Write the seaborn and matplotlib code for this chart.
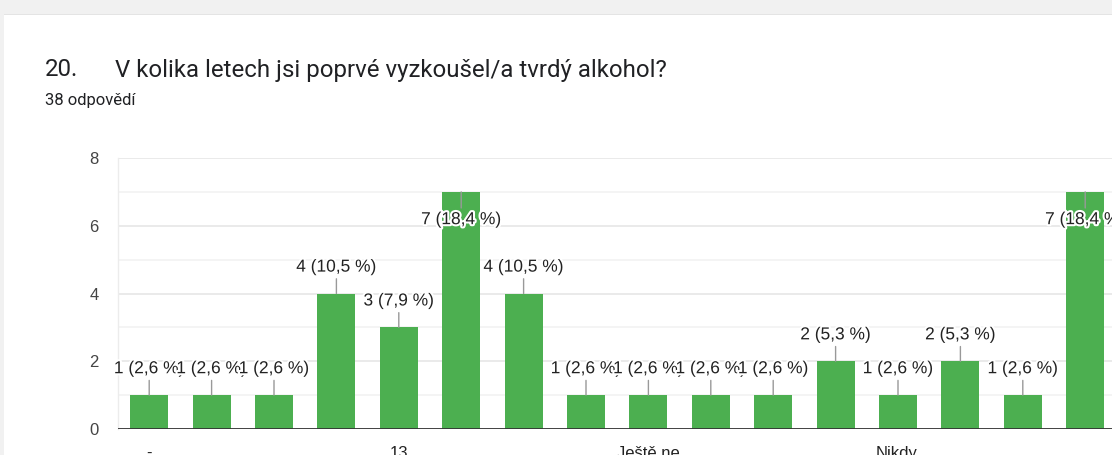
import matplotlib
matplotlib.use("Agg")
import matplotlib.pyplot as plt
import matplotlib.patheffects as pe
from matplotlib.patches import Rectangle
from matplotlib.ticker import MultipleLocator
import pandas as pd
import seaborn as sns

# === Data ===
kategorie = ["-", "10", "11", "12", "13", "14", "15", "16",
             "Ještě ne", "Ještě ne.", "Ještě nikdy", "Mám jen ochutnáno",
             "Nikdy.", "Nikdy", "Nepiju", "nikdy"]
pocty = [1, 1, 1, 4, 3, 7, 4, 1, 1, 1, 1, 2, 1, 2, 1, 7]
procenta = ["2,6", "2,6", "2,6", "10,5", "7,9", "18,4", "10,5", "2,6",
            "2,6", "2,6", "2,6", "5,3", "2,6", "5,3", "2,6", "18,4"]
zobrazene_popisky = ["-", "13", "Ještě ne", "Nikdy."]

nadpis_cislo = "20."
nadpis = "V kolika letech jsi poprvé vyzkoušel/a tvrdý alkohol?"
podnadpis = "38 odpovědí"

df = pd.DataFrame({"kategorie": kategorie, "pocet": pocty, "procenta": procenta})

# === Figure ===
W, H = 1112, 455
fig = plt.figure(figsize=(W / 100, H / 100), dpi=100, facecolor="#f1f1f1")

# white card with soft top shadow
fig.patches.append(Rectangle((4 / W, 0), 1, 1 - 14 / H, transform=fig.transFigure,
                             facecolor="white", edgecolor="none", zorder=-2))
fig.patches.append(Rectangle((4 / W, 1 - 15 / H), 1, 1.5 / H, transform=fig.transFigure,
                             facecolor="#e4e4e4", edgecolor="none", zorder=-2))

fig.text(45 / W, 1 - 70 / H, nadpis_cislo, fontsize=17.3, family="Roboto",
         color="#202124", va="center", ha="left")
fig.text(115 / W, 1 - 70 / H, nadpis, fontsize=17.3, family="Roboto",
         color="#202124", va="center", ha="left")
fig.text(45 / W, 1 - 101 / H, podnadpis, fontsize=12, family="Roboto",
         color="#202124", va="center", ha="left")

# plot area: left edge x=118, baseline y=429, top gridline y=158, 62.4 px per bar
ax = fig.add_axes([118 / W, 1 - 429 / H, 17 * 62.4 / W, (429 - 158) / H])
ax.set_zorder(2)
ax.set_facecolor("none")

sns.barplot(data=df, x="kategorie", y="pocet", order=kategorie, color="#4caf50",
            saturation=1, width=0.61, ax=ax, zorder=3)

ax.set_xlim(-0.5, 16.5)
ax.set_ylim(0, 8)
ax.set_xlabel("")
ax.set_ylabel("")

# grid
ax.yaxis.set_major_locator(MultipleLocator(2))
ax.yaxis.set_minor_locator(MultipleLocator(1))
ax.grid(axis="y", which="major", color="#e6e6e6", lw=1.2, zorder=0)
ax.grid(axis="y", which="minor", color="#f2f2f2", lw=1.2, zorder=0)
ax.set_axisbelow(True)
for s in ["top", "right", "bottom"]:
    ax.spines[s].set_visible(False)
ax.spines["left"].set_color("#ececec")
ax.spines["left"].set_linewidth(1)
ax.axhline(0, color="#333333", lw=2, zorder=4)

ax.tick_params(axis="y", which="both", length=0, pad=14, labelsize=12,
               labelcolor="#444444")
ax.tick_params(axis="x", length=0, pad=12, labelsize=12, labelcolor="#222222")
ax.set_xticks(range(len(kategorie)))
ax.set_xticklabels([k if k in zobrazene_popisky else "" for k in kategorie])
for t in ax.get_xticklabels() + ax.get_yticklabels():
    t.set_family("Liberation Sans")

# value labels with leader lines
vmax = max(pocty)
halo = [pe.withStroke(linewidth=3, foreground="white")]
for p, n, pct in zip(ax.patches, df["pocet"], df["procenta"]):
    cx = p.get_x() + p.get_width() / 2
    top = p.get_height()
    dy = -20 if n == vmax else 19
    ax.annotate(f"{n} ({pct} %)", xy=(cx, top), xytext=(0, dy),
                textcoords="offset points", ha="center", va="center",
                fontsize=12.5, family="Liberation Sans", color="#222222",
                path_effects=halo, zorder=6,
                arrowprops=dict(arrowstyle="-", color="#999999", lw=1,
                                shrinkA=1, shrinkB=0))

fig.savefig("out.png", dpi=100, facecolor=fig.get_facecolor())
